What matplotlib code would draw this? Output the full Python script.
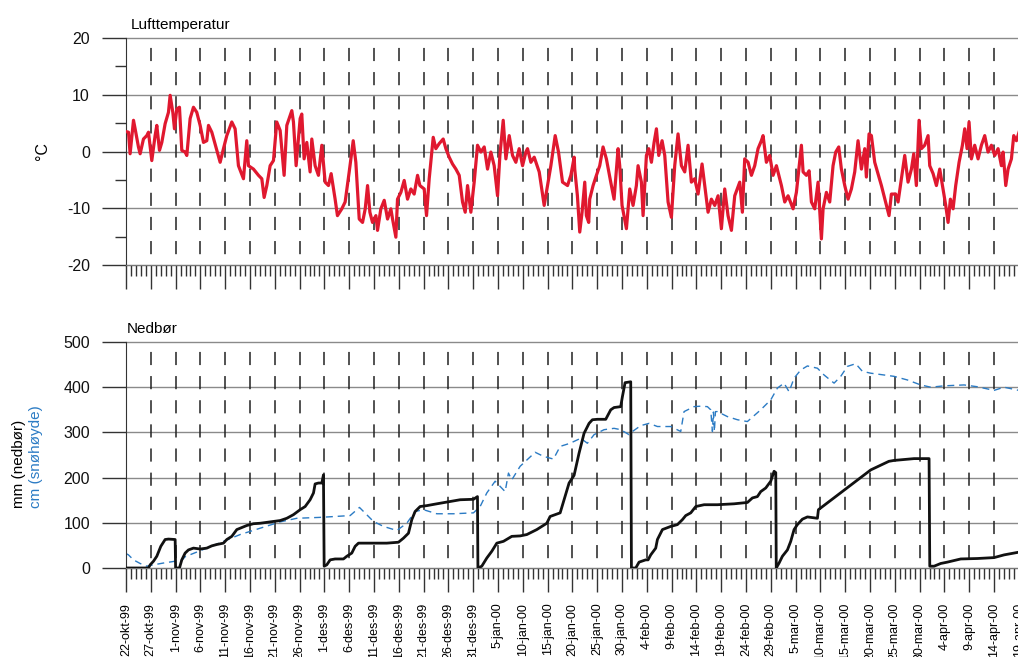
import matplotlib
matplotlib.use('Agg')
import matplotlib.pyplot as plt
from matplotlib.ticker import MultipleLocator, FixedLocator

plt.rcParams['font.family'] = ['Liberation Sans', 'DejaVu Sans']
plt.rcParams['axes.unicode_minus'] = False

# ---------------- data (day 0 = 22-okt-99) ----------------
tick_labels = ['22-okt-99', '27-okt-99', '1-nov-99', '6-nov-99', '11-nov-99', '16-nov-99',
               '21-nov-99', '26-nov-99', '1-des-99', '6-des-99', '11-des-99', '16-des-99',
               '21-des-99', '26-des-99', '31-des-99', '5-jan-00', '10-jan-00', '15-jan-00',
               '20-jan-00', '25-jan-00', '30-jan-00', '4-feb-00', '9-feb-00', '14-feb-00',
               '19-feb-00', '24-feb-00', '29-feb-00', '5-mar-00', '10-mar-00', '15-mar-00',
               '20-mar-00', '25-mar-00', '30-mar-00', '4-apr-00', '9-apr-00', '14-apr-00',
               '19-apr-00']
tick_days = [5 * i for i in range(len(tick_labels))]

temp_day = [0.03, 0.50, 0.83, 1.51, 1.84, 2.51, 2.85, 3.52, 4.19, 4.53, 5.20, 5.87, 6.21, 6.75,
            7.22, 7.89, 8.56, 8.90, 9.44, 9.77, 10.24, 10.78, 11.25, 11.92, 12.26, 12.93, 13.60,
            14.27, 14.95, 15.62, 16.29, 16.63, 17.30, 18.31, 18.98, 19.65, 20.32, 21.33, 22.00,
            22.67, 23.68, 24.35, 24.69, 25.70, 26.71, 27.38, 27.85, 28.39, 29.06, 29.73, 30.40,
            31.08, 31.88, 32.42, 33.43, 33.76, 34.30, 35.11, 35.44, 35.91, 36.45, 37.12, 37.46,
            38.13, 38.80, 39.48, 40.15, 40.82, 41.36, 42.16, 42.63, 43.51, 44.18,
            45.00, 45.81, 46.34, 47.02, 47.69, 48.23, 48.70, 49.17, 49.70, 50.38, 50.71, 51.38,
            52.06, 52.73, 53.40, 53.74, 54.41, 54.74, 55.42, 56.09, 56.76, 57.43, 58.10, 58.78,
            59.25, 60.12, 60.59, 61.13, 61.94, 62.47, 63.15, 63.95, 64.49, 65.16, 65.83, 66.51,
            67.18, 67.85, 68.39, 68.86, 69.53, 70.20, 70.87, 71.55, 72.22, 72.89, 73.56, 74.23,
            74.91, 75.38, 76.05, 76.59, 77.26, 77.93, 78.60, 79.27, 79.95, 80.62, 80.95, 81.63,
            82.30, 83.31, 84.31, 84.99, 85.66, 86.53, 87.20, 88.01, 89.02, 89.69, 90.36,
            90.47, 91.01, 91.48, 91.95, 92.49, 92.82, 93.29, 93.49, 94.17, 94.84, 95.51, 96.18,
            96.85, 97.73, 98.40, 99.21, 99.54, 100.01, 100.89, 101.56, 102.23, 102.90, 103.24,
            103.91, 104.25, 104.92, 105.39, 105.93, 106.47, 106.94, 107.41, 108.08, 108.62,
            109.29, 109.96, 110.63, 111.30, 111.98, 112.65, 113.32, 113.99, 114.66, 115.34,
            116.14, 116.68, 117.35, 118.02, 118.70, 119.37, 120.04, 120.71, 121.38, 122.06,
            122.73, 123.74, 124.27, 124.74, 125.42, 126.09, 126.76, 127.43, 128.10, 128.44,
            129.11, 129.78, 130.46, 131.13, 132.14, 132.81, 133.48, 134.49, 135.16, 136.17,
            136.51, 137.18, 137.72, 138.19, 138.86, 139.53, 140.20, 140.54, 141.21, 141.88,
            142.55, 143.09, 143.70, 144.23, 144.91, 145.58, 146.25, 146.92, 147.59, 148.27,
            148.94, 149.27, 149.81, 150.28, 150.95, 152.30, 153.31, 153.84, 154.31, 155.19,
            155.66, 156.33, 157.00, 157.67, 158.35, 158.82, 159.35, 159.89, 160.36, 161.03,
            161.71, 162.04, 162.72, 163.39, 164.06, 164.73, 165.27, 165.74, 166.21, 166.75,
            167.28, 167.96, 168.63, 169.10, 169.57, 169.97, 170.44, 171.11, 171.79, 172.46,
            173.13, 173.80, 174.48, 175.15, 175.82, 176.49, 176.83, 177.37, 177.84, 178.51,
            178.98, 179.52, 180.05]
temp_c = [3.5, 3.4, -0.4, 5.5, 4.0, 0.8, -0.4, 2.2, 2.8, 3.4, -1.6, 2.8, 4.6, 0.2,
          1.6, 4.9, 6.9, 9.9, 6.9, 4.0, 7.5, 7.8, 0.2, -0.1, -0.7, 5.8, 7.8,
          6.9, 4.6, 1.6, 1.9, 4.6, 3.4, 0.2, -1.9, 0.5, 2.8, 5.2, 4.0,
          -2.5, -4.8, 1.9, -2.5, -3.1, -4.2, -4.8, -8.1, -6.0, -2.5, -1.6, 5.2,
          3.7, -4.2, 4.6, 7.2, 5.2, -2.5, 5.8, 6.6, -1.3, 1.6, -3.6, 2.2,
          -2.5, -4.2, 1.1, -5.4, -6.0, -3.9, -8.4, -11.3, -10.1, -8.9,
          -3.6, 1.9, -1.9, -11.9, -12.5, -10.1, -6.0, -10.7, -12.5, -11.3, -13.9, -10.1,
          -8.6, -11.9, -10.1, -11.9, -15.1, -8.4, -7.2, -5.1, -8.4, -6.6, -7.5, -4.2,
          -6.0, -6.6, -11.3, -4.8, 2.5, 0.5, 1.4, 2.2, 0.5, -1.0, -2.2, -3.1,
          -4.2, -8.9, -10.7, -6.0, -10.7, -5.4, 1.1, -0.1, 0.8, -3.1, -0.1, -2.5,
          -7.8, -0.7, 5.5, -1.3, 2.8, -0.7, -1.9, 0.5, -2.5, -0.1, 0.5, -1.9,
          -1.0, -3.6, -9.5, -6.0, -2.5, 2.8, -0.1, -5.4, -6.0, -4.2, -1.0,
          -3.1, -7.8, -14.2, -10.7, -5.4, -11.3, -12.5, -8.4, -6.0, -4.2, -2.5, 0.8,
          -1.3, -5.4, -8.4, 0.5, -2.5, -9.5, -13.6, -6.6, -9.5, -6.0, -2.5,
          -5.4, -11.3, -0.7, 0.5, -1.9, 1.6, 4.0, -0.7, 1.9, -0.7,
          -8.9, -11.6, -2.5, 3.1, -2.5, -3.6, 1.1, -5.4, -4.8, -7.5,
          -2.2, -6.0, -10.7, -8.4, -9.5, -7.8, -13.6, -6.6, -11.3, -13.9,
          -7.8, -5.4, -10.7, -1.3, -1.9, -4.2, -2.5, 0.5, 1.9, 2.8,
          -1.9, -0.7, -4.2, -2.5, -6.0, -8.9, -7.8, -10.1, -7.2, 1.1,
          -3.6, -4.2, -3.4, -8.9, -10.1, -5.4, -15.4, -10.1, -7.2, -8.9,
          -2.5, -0.1, 0.8, -3.1, -6.0, -8.4, -6.6, -3.6, 1.9, -3.1,
          0.5, -4.5, 3.1, 2.8, -1.9, -6.0, -9.5, -11.3, -7.5, -7.5,
          -8.9, -4.8, -0.7, -5.4, -3.1, -0.4, -6.0, 5.5, 0.5, 1.1,
          2.8, -2.5, -3.9, -6.0, -3.1, -6.6, -9.5, -12.5, -8.4, -10.1,
          -6.0, -1.9, 1.1, 4.0, 0.5, 5.2, -1.3, 1.1, -1.3, 1.1,
          2.8, -0.1, 1.1, -0.7, 0.5, -2.5, -0.1, -6.0, -3.1, -1.3,
          2.8, 1.9, 3.4]

precip_day = [0, 0.5, 4.53, 4.87, 5.54, 6.21, 7.02, 7.89, 8.56, 9.91, 10.0, 10.78, 11.25, 11.92,
              12.59, 13.60, 14.95, 16.29, 17.30, 18.31, 19.65, 20.32, 21.33, 22.34, 23.01, 24.35,
              25.70, 27.04, 28.39, 29.73, 31.08, 32.42, 33.76, 35.11, 36.12, 37.12, 37.80, 38.13,
              38.80, 39.48, 39.81, 39.95, 40.48, 41.16, 42.16, 43.84, 44.52, 45.52, 46.20, 46.87,
              48.21, 49.89, 52.58, 54.93, 55.94, 56.95, 57.62, 58.29, 59.30, 60.65, 62.66, 65.35,
              67.37, 70.05, 70.86, 70.95, 71.73, 72.74, 73.75, 74.76, 76.10, 77.78, 79.46, 80.81,
              82.82, 84.84, 85.51, 87.53, 88.32, 89.33, 90.34, 91.34, 92.35, 93.36, 94.03, 95.04,
              96.72, 97.73, 98.40, 99.74, 100.08, 100.62, 101.76, 101.90, 102.77, 103.44, 104.78,
              105.26, 105.79, 106.80, 107.14, 108.15, 109.83, 111.17, 112.18, 112.85, 113.86,
              114.87, 116.55, 119.23, 122.59, 125.28, 126.29, 127.30, 127.97, 128.98, 129.99,
              130.66, 131.00, 131.10, 131.67, 132.34, 133.35, 134.02, 134.69, 135.36, 136.37,
              137.38, 139.40, 139.60, 150.15, 153.80, 154.85, 158.88, 161.91, 162.05, 162.92,
              164.26, 165.60, 168.29, 171.65, 175.01, 177.03, 179.99]
precip_mm = [0, 0, 0, 7, 15, 26, 48, 63, 64, 63, 0, 0, 18, 33,
             40, 44, 42, 44, 49, 52, 55, 63, 70, 85, 88, 94,
             98, 99, 101, 103, 105, 110, 118, 129, 136, 151, 166, 186,
             188, 188, 206, 4, 7, 18, 20, 20, 26, 33, 48, 55,
             55, 55, 55, 57, 66, 77, 107, 125, 136, 138, 142, 147,
             151, 152, 158, 0, 4, 22, 37, 55, 59, 70, 71, 74,
             85, 99, 114, 122, 151, 188, 205, 254, 298, 320, 328, 329,
             329, 350, 355, 357, 379, 410, 412, 0, 0, 13, 18,
             18, 29, 44, 63, 85, 92, 96, 107, 116, 122,
             136, 140, 140, 142, 145, 155, 158, 169, 177, 192,
             214, 211, 0, 11, 26, 40, 59, 85, 96, 108,
             113, 110, 129, 217, 236, 238, 242, 242, 4, 4,
             10, 13, 20, 21, 23, 29, 35]

snow_day = [0.0, 0.5, 1.51, 2.85, 4.19, 5.54, 7.55, 9.91, 11.25, 11.92, 16.29, 19.65, 23.01,
            27.04, 31.08, 34.44, 39.14, 45.19, 47.07, 49.89, 51.91, 54.60, 56.61, 58.29, 59.97,
            62.66, 66.02, 70.05, 71.40, 72.74, 74.42, 76.44, 77.11, 77.78, 79.46, 82.49, 84.17,
            86.18, 87.53, 89.54, 91.68, 93.02, 94.37, 96.38, 98.40, 99.74, 101.42, 102.10,
            103.78, 105.46, 107.14, 109.83, 111.84, 112.51, 114.53, 115.87, 117.22, 117.89,
            118.23, 118.43, 118.63, 118.83, 119.23, 121.25, 123.27, 125.28, 127.97, 129.99,
            131.33, 132.67, 133.68, 134.69, 136.03, 137.38, 139.40, 140.74, 142.76, 144.10,
            145.44, 147.12, 148.47, 150.15, 152.84, 154.85, 157.54, 160.23, 162.25, 164.93,
            168.97, 171.65, 175.01, 177.03, 179.99]
snow_cm = [32, 29, 18, 10, 4, 7, 11, 15, 17, 25, 44, 59, 74,
           88, 102, 110, 112, 116, 134, 103, 92, 83, 99, 125, 129,
           120, 120, 122, 136, 166, 192, 169, 210, 195, 225, 256, 247,
           241, 269, 276, 287, 276, 295, 306, 309, 306, 295, 302,
           315, 320, 313, 313, 302, 346, 357, 358, 357, 350,
           302, 345, 302, 346, 346, 335, 328, 324, 350, 372,
           398, 409, 390, 420, 438, 447, 442, 427, 409, 424,
           446, 452, 435, 431, 427, 424, 416, 405, 400, 403,
           405, 401, 393, 400, 393]

temp_yticks = [-20, -10, 0, 10, 20]
precip_yticks = [0, 100, 200, 300, 400, 500]

# ---------------- layout ----------------
W, H = 1018, 657
fig = plt.figure(figsize=(W / 100, H / 100), dpi=100)
fig.patch.set_facecolor('white')

DAY_MAX = 182
PX_PER_DAY = 4.96
LEFT = 126
RIGHT = LEFT + DAY_MAX * PX_PER_DAY


def rect(t, b):
    return [LEFT / W, 1 - b / H, (RIGHT - LEFT) / W, (b - t) / H]


ax1 = fig.add_axes(rect(38, 265))
ax2 = fig.add_axes(rect(342, 568))

RED = '#e0182f'
BLUE = '#2b7bc4'


def style(ax, yticks, yminor=None):
    ymin, ymax = yticks[0], yticks[-1]
    ax.set_xlim(0, DAY_MAX)
    ax.set_ylim(ymin, ymax)
    ax.set_yticks(yticks)
    if yminor:
        ax.yaxis.set_minor_locator(MultipleLocator(yminor))
    ax.xaxis.set_major_locator(FixedLocator(tick_days))
    ax.xaxis.set_minor_locator(MultipleLocator(1))
    ax.tick_params(axis='both', which='major', direction='out', length=17, width=1, color='#333')
    ax.tick_params(axis='both', which='minor', direction='out', length=8, width=1, color='#333')
    ax.tick_params(axis='y', labelsize=11.5, pad=9, labelcolor='#111')
    for s in ['top', 'right']:
        ax.spines[s].set_visible(False)
    ax.spines['left'].set_color('#333')
    ax.spines['bottom'].set_color('#777')
    for y in yticks:
        ax.axhline(y, color='#8a8a8a', lw=1, zorder=1, clip_on=False)
    for d in tick_days[1:]:
        ax.plot([d, d], [ymax, ymin], color='#222', lw=1.1,
                ls=(9.3, (8.6, 7.2)), zorder=1)


style(ax1, temp_yticks, 5)
style(ax2, precip_yticks)

ax1.tick_params(axis='x', labelbottom=False)
ax2.set_xticklabels(tick_labels, rotation=90, fontsize=9)
ax2.tick_params(axis='x', pad=8)

ax1.plot(temp_day, temp_c, color=RED, lw=2.3, zorder=3)
ax2.plot(snow_day, snow_cm, color=BLUE, lw=1, ls=(0, (5, 3.5)), zorder=2)
ax2.plot(precip_day, precip_mm, color='#111', lw=2, zorder=3)

fig.text(131 / W, 1 - 29 / H, 'Lufttemperatur', fontsize=11, va='baseline', ha='left')
fig.text(127 / W, 1 - 333 / H, 'Nedbør', fontsize=11, va='baseline', ha='left')
fig.text(42 / W, 1 - 151 / H, '°C', fontsize=11.5, rotation=90, ha='center', va='center')
fig.text(19 / W, 1 - 508 / H, 'mm (nedbør)', fontsize=11, rotation=90, ha='center', va='bottom')
fig.text(36 / W, 1 - 508 / H, 'cm (snøhøyde)', fontsize=11, rotation=90, ha='center',
         va='bottom', color=BLUE)

fig.savefig('out.png', dpi=100)
